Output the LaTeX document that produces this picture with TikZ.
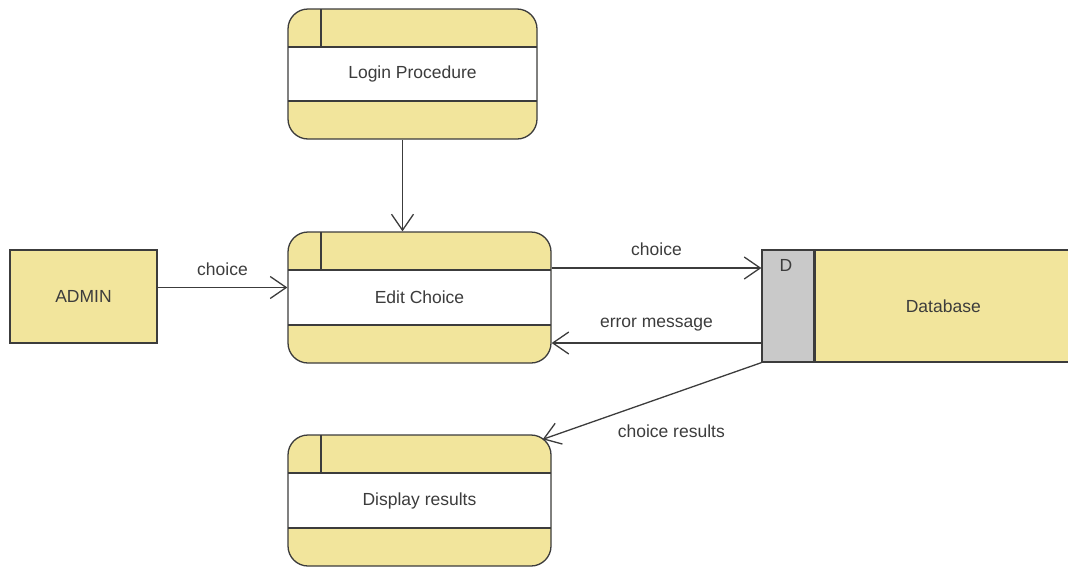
\documentclass[tikz,border=0pt]{standalone}
\usepackage{fontspec}
\setmainfont{Liberation Sans}
\usetikzlibrary{calc, arrows.meta}
\definecolor{rellenoAmarillo}{RGB}{242,229,156}
\definecolor{rellenoGris}{RGB}{201,201,201}
\definecolor{borde}{RGB}{60,60,60}
\definecolor{texto}{RGB}{60,60,60}

\begin{document}
\begin{tikzpicture}[
    x=1pt, y=-1pt,
    every node/.style={font=\fontsize{17.5}{20}\selectfont, text=texto},
    flecha/.style={-{Straight Barb[length=16pt, width=22pt]}, borde, line width=1.3pt},
    etiqueta/.style={font=\fontsize{17.5}{20}\selectfont, text=texto},
    entidad/.style={draw=borde, fill=rellenoAmarillo, line width=1.3pt,
        minimum width=147pt, minimum height=93pt, inner sep=0pt},
    almacen/.style={draw=borde, line width=1.3pt, minimum height=112pt, inner sep=0pt},
    proceso/.style={draw=borde, fill=rellenoAmarillo, line width=1.3pt,
        rounded corners=20pt, minimum width=263pt, minimum height=131pt, inner sep=0pt,
        path picture={
            \fill[white, sharp corners] ([yshift=-38pt]path picture bounding box.north west)
                rectangle ([yshift=38pt]path picture bounding box.south east);
            \draw[borde, line width=1.3pt, sharp corners]
                ([yshift=-38pt]path picture bounding box.north west) -- ([yshift=-38pt]path picture bounding box.north east)
                ([yshift=38pt]path picture bounding box.south west) -- ([yshift=38pt]path picture bounding box.south east)
                ([xshift=33pt]path picture bounding box.north west) -- ([xshift=33pt, yshift=-38pt]path picture bounding box.north west);
        }}
]
    \useasboundingbox (0,0) rectangle (1068,568);

    % --- PROCESOS ---
    \node[proceso, minimum width=249pt, minimum height=130pt] (login) at (412.5, 74) {Login Procedure};
    \node[proceso] (edit) at (419.5, 297.5) {Edit Choice};
    \node[proceso] (disp) at (419.5, 500.5) {Display results};

    % --- ENTIDAD EXTERNA ---
    \node[entidad] (admin) at (83.5, 296.5) {ADMIN};

    % --- ALMACEN DE DATOS ---
    \node[almacen, fill=rellenoGris, minimum width=52pt] (dbid) at (788, 306) {};
    \node[below, inner sep=0pt, xshift=-2pt, yshift=-10pt] (dbidtxt) at (dbid.north) {D};
    \node[almacen, fill=rellenoAmarillo, minimum width=256pt, anchor=west] (db) at (dbid.east) {Database};

    % --- FLUJOS ---
    \draw[flecha] ([xshift=-10pt]login.south) -- ([xshift=-10pt]login.south |- edit.north);
    \draw[flecha] ([yshift=9pt]admin.east) -- ([yshift=9pt]admin.east -| edit.west)
        node[etiqueta, midway, above=8pt] {choice};
    \draw[flecha] ([yshift=29.5pt]edit.east) -- ([yshift=29.5pt]edit.east -| dbid.west)
        node[etiqueta, midway, above=8pt] {choice};
    \draw[flecha] ([yshift=-37pt]dbid.west) -- ([yshift=-37pt]dbid.west -| edit.east)
        node[etiqueta, midway, above=8pt] {error message};
    \draw[flecha] (dbid.south west) -- ([xshift=-9pt, yshift=-5pt]disp.north east)
        node[etiqueta, pos=0.43, xshift=4pt, yshift=-36pt] {choice results};

\end{tikzpicture}
\end{document}
